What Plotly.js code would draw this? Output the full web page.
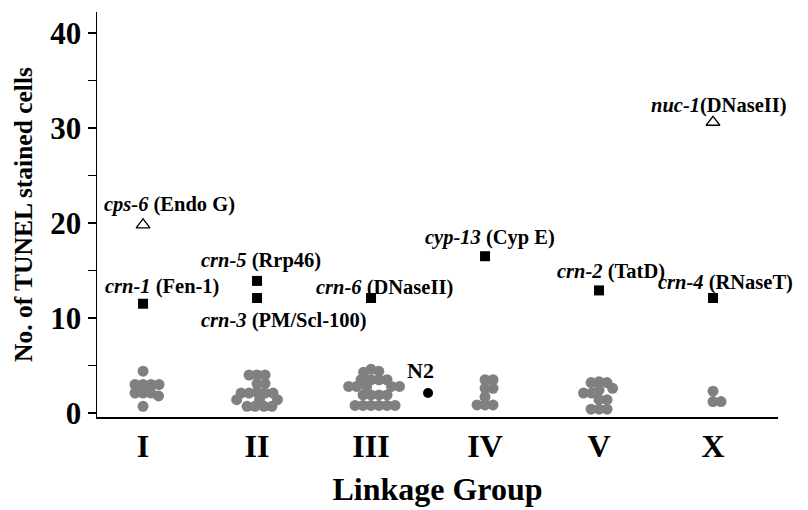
<!DOCTYPE html>
<html>
<head>
<meta charset="utf-8">
<script src="https://cdn.plot.ly/plotly-3.0.1.min.js"></script>
<style>html,body{margin:0;padding:0;background:#fff;}#chart{width:808px;height:510px;}</style>
</head>
<body>
<div id="chart"></div>
<script>
// ---- Data ----
const groupLabels = ['I', 'II', 'III', 'IV', 'V', 'X'];

// Individual mutant strains (gray dots), per linkage group
const cellsI   = [4.4, 3.0, 3.0, 3.0, 3.0, 2.1, 2.1, 2.1, 1.8, 0.7];
const cellsII  = [4.0, 4.0, 4.0, 3.1, 3.1, 2.2, 2.1, 2.1, 2.1, 2.1, 1.4, 1.4, 1.4, 0.7, 0.7, 0.7, 0.7];
const cellsIII = [4.6, 4.4, 4.3, 3.5, 3.5, 3.5, 3.5, 2.8, 2.8, 2.8, 2.8, 2.8, 1.9, 1.9, 1.9, 1.9, 0.8, 0.8, 0.8, 0.8, 0.8, 0.8];
const cellsIV  = [3.5, 3.5, 2.6, 2.6, 1.7, 0.85, 0.85, 0.85];
const cellsV   = [3.3, 3.2, 3.2, 2.6, 2.4, 2.1, 2.1, 1.4, 1.4, 0.4, 0.4, 0.4];
const cellsX   = [2.3, 1.2, 1.2];

// Nuclease mutants (black squares)
const sqGenes    = ['crn-1', 'crn-5', 'crn-3', 'crn-6', 'cyp-13', 'crn-2', 'crn-4'];
const sqProteins = ['Fen-1', 'Rrp46', 'PM/Scl-100', 'DNaseII', 'Cyp E', 'TatD', 'RNaseT'];
const sqGroups   = ['I', 'II', 'II', 'III', 'IV', 'V', 'X'];
const sqValues   = [11.5, 13.9, 12.1, 12.1, 16.5, 12.9, 12.1];

// Known nucleases (open triangles)
const triGenes    = ['cps-6', 'nuc-1'];
const triProteins = ['Endo G', 'DNaseII'];
const triGroups   = ['I', 'X'];
const triValues   = [19.8, 30.6];

// Wild type
const wtLabel = 'N2';
const wtValue = 2.1;

// ---- Layout constants ----
const W = 808, H = 510;
const M = {l: 97, r: 30, t: 12, b: 93};
const xRange = [0.596, 6.57];
const yRange = [-0.42, 42.2];
const pxPerX = (W - M.l - M.r) / (xRange[1] - xRange[0]);
const pxPerY = (H - M.t - M.b) / (yRange[1] - yRange[0]);
const pos = g => groupLabels.indexOf(g) + 1;

// beeswarm placement (pixel-space collision), returns x positions
function swarm(values, center, diam) {
  const placed = [];
  const order = values.map((v, i) => i).sort((a, b) => values[b] - values[a]);
  const xs = new Array(values.length);
  order.forEach(i => {
    const py = values[i] * pxPerY;
    const cands = [0];
    placed.forEach(p => {
      const dy = Math.abs(p.y - py);
      if (dy < diam) {
        const dx = Math.sqrt(diam * diam - dy * dy);
        cands.push(p.x + dx, p.x - dx);
      }
    });
    const ok = c => placed.every(p => (p.x - c) ** 2 + (p.y - py) ** 2 >= diam * diam - 0.01);
    const valid = cands.filter(ok).sort((a, b) => Math.abs(a) - Math.abs(b) || b - a);
    const x = valid[0];
    placed.push({x: x, y: py});
    xs[i] = center + x / pxPerX;
  });
  return xs;
}

const groups = [cellsI, cellsII, cellsIII, cellsIV, cellsV, cellsX];
const grayX = [], grayY = [];
groups.forEach((vals, gi) => {
  const xs = swarm(vals, gi + 1, 8);
  xs.forEach((x, k) => { grayX.push(x); grayY.push(vals[k]); });
});

const traces = [
  {x: grayX, y: grayY, type: 'scatter', mode: 'markers',
   marker: {symbol: 'circle', size: 11, color: '#808080', line: {width: 0}}, hoverinfo: 'y'},
  {x: sqGroups.map(pos), y: sqValues, type: 'scatter', mode: 'markers',
   marker: {symbol: 'square', size: 10, color: '#000'}},
  {x: triGroups.map(pos), y: triValues, type: 'scatter', mode: 'markers',
   marker: {symbol: 'triangle-up-open', size: 12, color: '#000', line: {width: 1.3}}},
  {x: [3.5], y: [wtValue], type: 'scatter', mode: 'markers',
   marker: {symbol: 'circle', size: 10, color: '#000'}}
];

const serif = 'Liberation Serif, Times New Roman, serif';
const labelFont = {family: serif, size: 20.5, color: '#000'};
// per-label pixel offsets of text center relative to its mark
const sqShift  = [[19, -17], [4, -20], [27, 22], [13, -11], [5, -19], [12, -19], [12, -16]];
const triShift = [[26, -20], [6, -17]];

const annotations = [];
sqGenes.forEach((g, i) => annotations.push({
  x: pos(sqGroups[i]), y: sqValues[i], xref: 'x', yref: 'y', showarrow: false,
  text: '<b><i>' + g + '</i> (' + sqProteins[i] + ')</b>', font: labelFont,
  xshift: sqShift[i][0], yshift: -sqShift[i][1]
}));
triGenes.forEach((g, i) => annotations.push({
  x: pos(triGroups[i]), y: triValues[i], xref: 'x', yref: 'y', showarrow: false,
  text: '<b><i>' + g + '</i>' + (i === 1 ? '' : ' ') + '(' + triProteins[i] + ')</b>', font: labelFont,
  xshift: triShift[i][0], yshift: -triShift[i][1]
}));
annotations.push({x: 3.5, y: wtValue, xref: 'x', yref: 'y', showarrow: false,
  text: '<b>' + wtLabel + '</b>', font: {family: serif, size: 22, color: '#000'}, xshift: -8, yshift: 23});

const layout = {
  width: W, height: H,
  margin: M,
  paper_bgcolor: '#fff', plot_bgcolor: '#fff',
  showlegend: false,
  xaxis: {
    range: xRange, tickvals: [1, 2, 3, 4, 5, 6], ticktext: groupLabels,
    showgrid: false, zeroline: false, showline: true, linecolor: '#000', linewidth: 2,
    ticks: '', tickfont: {family: serif, size: 32, color: '#000', weight: 'bold'},
    title: {text: 'Linkage Group', font: {family: serif, size: 32, color: '#000', weight: 'bold'}, standoff: 14}
  },
  yaxis: {
    range: yRange, tickvals: [0, 10, 20, 30, 40],
    showgrid: false, zeroline: false, showline: true, linecolor: '#000', linewidth: 1.5,
    ticks: 'outside', ticklen: 8, tickwidth: 1.5, tickcolor: '#000',
    minor: {tickvals: [5, 15, 25, 35], ticks: 'outside', ticklen: 8, tickwidth: 1.5, tickcolor: '#000'},
    tickfont: {family: serif, size: 31, color: '#000', weight: 'bold'},
    title: {text: 'No. of TUNEL stained cells', font: {family: serif, size: 25.5, color: '#000', weight: 'bold'}, standoff: 10}
  },
  annotations: annotations
};

Plotly.newPlot('chart', traces, layout, {staticPlot: true, displayModeBar: false});
</script>
</body>
</html>
